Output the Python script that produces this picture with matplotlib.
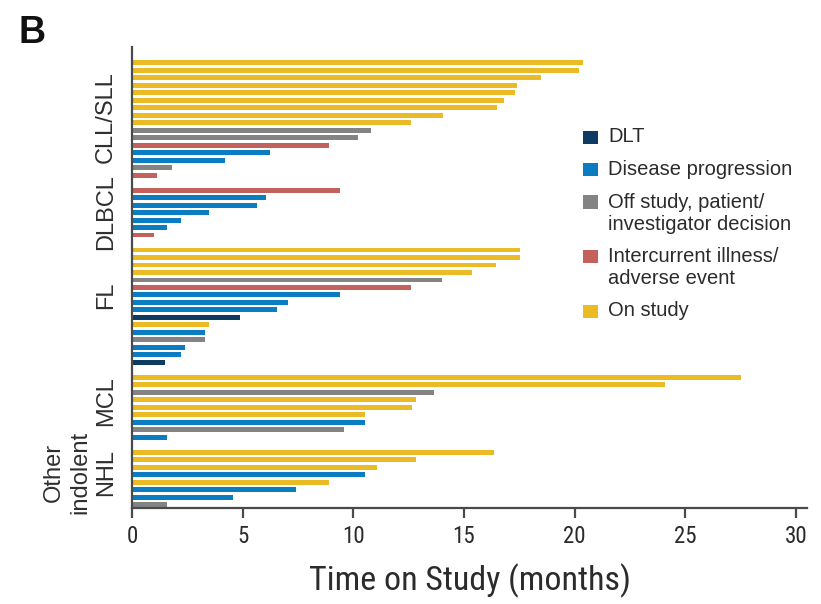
import numpy as np
import matplotlib.pyplot as plt
from matplotlib import font_manager
from matplotlib.font_manager import FontProperties
from matplotlib.patches import Rectangle

# narrow face for the axis numbers / axis title, plain sans for the rest
narrow_file = None
for pref in ['LiberationSansNarrow-Regular', 'RobotoCondensed-Regular', 'Roboto_Condensed',
             'DejaVuSansCondensed.ttf', 'Condensed', 'Narrow']:
    hits = [f.fname for f in font_manager.fontManager.ttflist
            if pref.lower() in f.fname.lower() and 'bold' not in f.fname.lower()
            and 'italic' not in f.fname.lower() and 'oblique' not in f.fname.lower()]
    if hits:
        narrow_file = sorted(hits)[0]
        break
if narrow_file:
    narrow = lambda size: FontProperties(fname=narrow_file, size=size)
else:
    narrow = lambda size: FontProperties(family='Roboto', size=size)
plain = 'Liberation Sans'

# ---- time on study per patient (months), top to bottom within each histology ----
groups = ["CLL/SLL", "DLBCL", "FL", "MCL", "Other\nindolent\nNHL"]

cll_months = [20.4, 20.2, 18.5, 17.4, 17.3, 16.8, 16.5, 14.05, 12.6, 10.8, 10.2, 8.9, 6.25, 4.2, 1.8, 1.15]
cll_status = ['on', 'on', 'on', 'on', 'on', 'on', 'on', 'on', 'on', 'off', 'off', 'ae', 'pd', 'pd', 'off', 'ae']

dlbcl_months = [9.4, 6.05, 5.65, 3.5, 2.2, 1.6, 1.0]
dlbcl_status = ['ae', 'pd', 'pd', 'pd', 'pd', 'pd', 'ae']

fl_months = [17.55, 17.55, 16.45, 15.35, 14.0, 12.6, 9.4, 7.05, 6.55, 4.9, 3.5, 3.3, 3.3, 2.4, 2.2, 1.5]
fl_status = ['on', 'on', 'on', 'on', 'off', 'ae', 'pd', 'pd', 'pd', 'dlt', 'on', 'pd', 'off', 'pd', 'pd', 'dlt']

mcl_months = [27.5, 24.1, 13.65, 12.85, 12.65, 10.55, 10.55, 9.6, 1.6]
mcl_status = ['on', 'on', 'off', 'on', 'on', 'on', 'pd', 'off', 'pd']

nhl_months = [16.35, 12.85, 11.05, 10.55, 8.9, 7.4, 4.55, 1.6]
nhl_status = ['on', 'on', 'on', 'pd', 'on', 'pd', 'pd', 'off']

months = [cll_months, dlbcl_months, fl_months, mcl_months, nhl_months]
status = [cll_status, dlbcl_status, fl_status, mcl_status, nhl_status]

legend_keys = ['dlt', 'pd', 'off', 'ae', 'on']
legend_text = ["DLT", "Disease progression", "Off study, patient/\ninvestigator decision",
               "Intercurrent illness/\nadverse event", "On study"]
colors = {'dlt': '#0d3b63', 'pd': '#0a7cc2', 'off': '#838383', 'ae': '#c3625c', 'on': '#eabb24'}

W, H = 821, 604
fig = plt.figure(figsize=(W / 100, H / 100), dpi=100)
ax = fig.add_axes([132 / W, 1 - 508 / H, (807 - 132) / W, (508 - 47) / H])

row = 0
centers = []
for t, s in zip(months, status):
    ys = row + np.arange(len(t))
    ax.barh(ys, t, height=0.66, color=[colors[k] for k in s], edgecolor='none')
    centers.append(ys.mean())
    row += len(t) + 1

ax.set_ylim(row - 2 + 0.44, -2.1)
ax.set_xlim(0, 30.5)
ax.set_yticks([])
ax.set_xticks(np.arange(0, 31, 5))

for side in ['top', 'right']:
    ax.spines[side].set_visible(False)
for side in ['left', 'bottom']:
    ax.spines[side].set_color('#4a4a4a')
    ax.spines[side].set_linewidth(1.6)

ax.tick_params(axis='x', direction='out', length=7.5, width=1.6, color='#4a4a4a',
               pad=5, labelcolor='#2b2b2b')
for lab in ax.get_xticklabels():
    lab.set_fontproperties(narrow(16.5))

ax.set_xlabel("Time on Study (months)", fontproperties=narrow(24.5), color='#2b2b2b', labelpad=11)

# histology names along the y axis
offsets = [-0.2, 0.0, -1.5, -0.8, -0.8]
for name, c, off in zip(groups, centers, offsets):
    ax.text(-0.022, c + off, name, transform=ax.get_yaxis_transform(), rotation=90,
            ha='right', va='center', multialignment='center', linespacing=1.25,
            family=plain, fontsize=17, color='#2f2f2f')

# panel letter
fig.text(18 / W, 1 - 43 / H, "B", family=plain, fontweight='bold', fontsize=27,
         color='#111111', ha='left', va='baseline')

# legend drawn by hand
y = 137
for key, txt in zip(legend_keys, legend_text):
    fig.patches.append(Rectangle((583 / W, 1 - (y + 6.5) / H), 15 / W, 13 / H,
                                 transform=fig.transFigure, facecolor=colors[key],
                                 edgecolor='none'))
    lines = txt.split('\n')
    for i, line in enumerate(lines):
        fig.text(608 / W, 1 - (y + 22 * i) / H, line, family=plain, fontsize=14.5,
                 color='#2b2b2b', ha='left', va='center')
    y += 22 * (len(lines) - 1) + 32.5

fig.savefig('out.png', dpi=100)
